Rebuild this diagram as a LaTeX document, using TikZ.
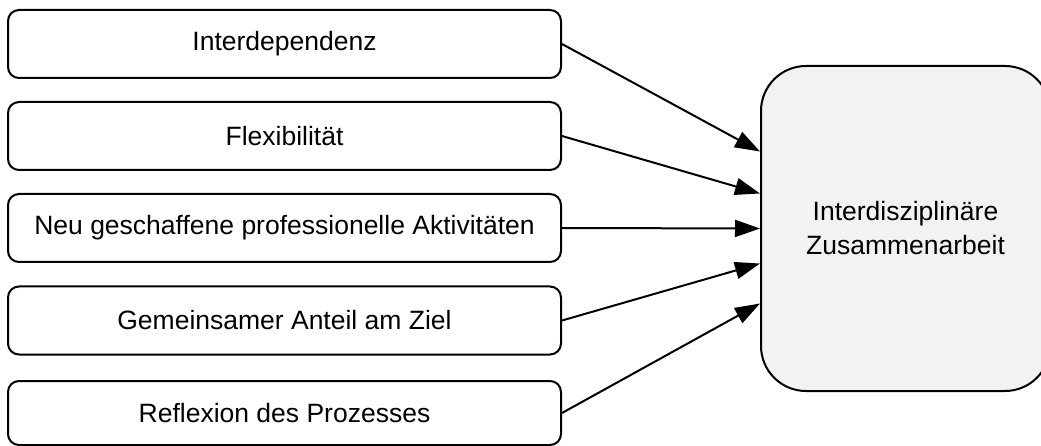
\documentclass[tikz,border=0pt]{standalone}
\usepackage{fontspec}
\setmainfont{Liberation Sans}
\usetikzlibrary{arrows.meta,calc}
\definecolor{outcomefill}{HTML}{F2F2F2}
\tikzset{
  factor/.style={draw, line width=2pt, rounded corners=11pt, fill=white,
    minimum width=553pt, minimum height=68pt, inner sep=0pt,
    font=\fontsize{26.5}{32}\selectfont},
  outcome/.style={draw, line width=2pt, rounded corners=45pt, fill=outcomefill,
    minimum width=289pt, minimum height=325pt, inner sep=0pt, align=center,
    font=\fontsize{26.5}{34}\selectfont},
  link/.style={line width=2pt, -{Triangle[length=25pt,width=17pt]}}
}
\begin{document}
\begin{tikzpicture}[x=1pt,y=-1pt]
  \useasboundingbox (0,0) rectangle (1041,446);

  % influencing factors
  \node[factor] (f1) at (284.5,44)  {Interdependenz};
  \node[factor] (f2) at (284.5,136) {Flexibilität};
  \node[factor] (f3) at (284.5,228) {Neu geschaffene professionelle Aktivitäten};
  \node[factor] (f4) at (284.5,320.5) {Gemeinsamer Anteil am Ziel};
  \node[factor, minimum height=64pt] (f5) at (284.5,413) {Reflexion des Prozesses};

  % outcome
  \node[outcome] (z) at (905.5,228.5) {Interdisziplinäre\\Zusammenarbeit};

  % arrival points on the outcome's left side
  \coordinate (t1) at ($(z.west)+(0,-77)$);
  \coordinate (t2) at ($(z.west)+(0,-35)$);
  \coordinate (t3) at (z.west);
  \coordinate (t4) at ($(z.west)+(0,35)$);
  \coordinate (t5) at ($(z.west)+(0,75)$);

  \draw[link] (f1.east) -- (t1);
  \draw[link] (f2.east) -- (t2);
  \draw[link] (f3.east) -- (t3);
  \draw[link] (f4.east) -- (t4);
  \draw[link] (f5.east) -- (t5);
\end{tikzpicture}
\end{document}
